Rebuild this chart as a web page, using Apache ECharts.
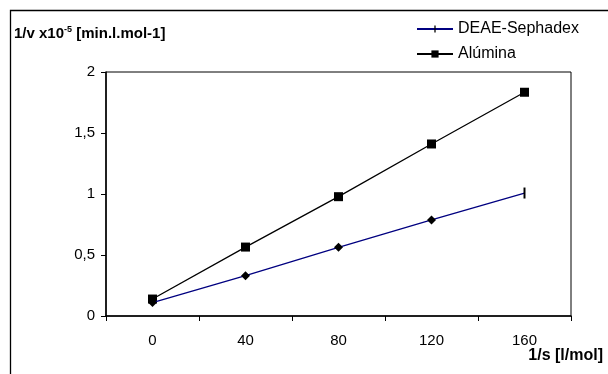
<!DOCTYPE html>
<html><head><meta charset="utf-8">
<script src="https://cdn.jsdelivr.net/npm/echarts@6/dist/echarts.min.js"></script>
<style>html,body{margin:0;padding:0;background:#fff}#c{width:608px;height:374px}</style>
</head><body><div id="c"></div>
<script>
const categories = ['0', '40', '80', '120', '160'];
const deae = [0.11, 0.33, 0.563, 0.787, 1.008];
const alumina = [0.139, 0.565, 0.978, 1.41, 1.834];
const yTicks = [0, 0.5, 1, 1.5, 2];

const F = '"Liberation Sans", Arial, sans-serif';
const BAR = 'path://M0,0 M10,10 M4.1,0 L5.9,0 L5.9,10 L4.1,10 Z';
const chart = echarts.init(document.getElementById('c'));
const deaeData = deae.map((v, i) => i === deae.length - 1
  ? v
  : { value: v, symbol: 'diamond', symbolSize: 9 });
chart.setOption({
  animation: false,
  textStyle: { fontFamily: F },
  graphic: [
    { type: 'rect', shape: { x: 10.5, y: 10.5, width: 700, height: 400 }, style: { fill: null, stroke: '#000', lineWidth: 1.3 }, silent: true },
    { type: 'text', left: 14, top: 25, style: {
      text: '{b|1/v x10}{s|-5}{b| [min.l.mol-1]}',
      rich: {
        b: { fontFamily: F, fontSize: 15, fontWeight: 'bold', fill: '#000' },
        s: { fontFamily: F, fontSize: 9, fontWeight: 'bold', fill: '#000', verticalAlign: 'top', padding: [0, 0, 9, 0] }
      } } },
    { type: 'text', right: 5, top: 348, style: { text: '1/s [l/mol]', fontFamily: F, fontSize: 16, fontWeight: 'bold', fill: '#000' } }
  ],
  legend: {
    orient: 'vertical', left: 411, top: 16, itemGap: 9, itemWidth: 36, itemHeight: 9,
    textStyle: { fontFamily: F, fontSize: 16, color: '#000' },
    data: ['DEAE-Sephadex', 'Alúmina']
  },
  grid: { left: 106, right: 37, top: 72, bottom: 58, show: true, borderColor: '#000', borderWidth: 1 },
  xAxis: {
    type: 'category', data: categories, boundaryGap: true,
    axisLine: { lineStyle: { color: '#000', width: 1.5 } },
    axisTick: { show: true, length: 5, lineStyle: { color: '#000' } },
    axisLabel: { color: '#000', fontSize: 15, fontFamily: F, margin: 17 },
    splitLine: { show: false }
  },
  yAxis: {
    type: 'value', min: 0, max: 2, interval: 0.5,
    axisLine: { show: true, lineStyle: { color: '#000', width: 1.5 } },
    axisTick: { show: true, length: 5, lineStyle: { color: '#000' } },
    axisLabel: { color: '#000', fontSize: 15, fontFamily: F, margin: 11,
      formatter: v => yTicks.includes(v) ? String(v).replace('.', ',') : '' },
    splitLine: { show: false }
  },
  series: [
    { name: 'DEAE-Sephadex', type: 'line', data: deaeData, symbol: BAR, symbolSize: 11,
      lineStyle: { color: '#000080', width: 1.3 }, itemStyle: { color: '#000' }, z: 3 },
    { name: 'Alúmina', type: 'line', data: alumina, symbol: 'rect', symbolSize: 9,
      lineStyle: { color: '#000', width: 1.3 }, itemStyle: { color: '#000' }, z: 2 }
  ]
});
</script></body></html>
